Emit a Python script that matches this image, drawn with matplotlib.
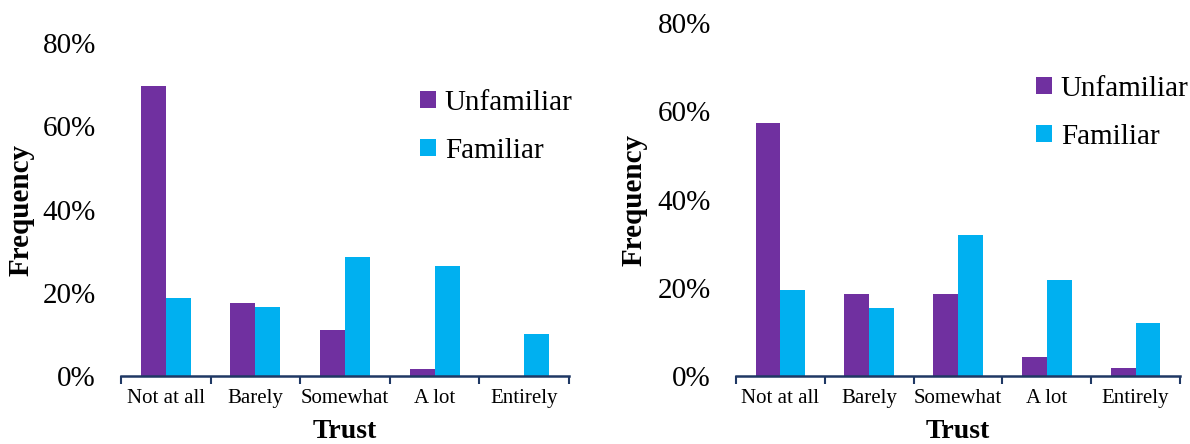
import matplotlib
matplotlib.use('Agg')
from matplotlib import pyplot as plt
from matplotlib.ticker import PercentFormatter
import numpy as np

# Trust ratings, share of respondents per answer
categories = ['Not at all', 'Barely', 'Somewhat', 'A lot', 'Entirely']
left_unfamiliar = [0.696, 0.176, 0.110, 0.016, 0.0]
left_familiar = [0.188, 0.166, 0.286, 0.264, 0.100]
right_unfamiliar = [0.574, 0.186, 0.186, 0.042, 0.017]
right_familiar = [0.195, 0.154, 0.319, 0.217, 0.121]
yticks = [0, 0.2, 0.4, 0.6, 0.8]

purple = '#7030A0'
cyan = '#00B0F0'
navy = '#1F3864'

plt.rcParams['font.family'] = ['Liberation Serif', 'DejaVu Serif']

fig = plt.figure(figsize=(11.9, 4.44), dpi=100)
ax_l = fig.add_axes([121 / 1190, 68 / 444, 448 / 1190, 333 / 444])
ax_r = fig.add_axes([736 / 1190, 68 / 444, 444 / 1190, 353 / 444])

def draw_panel(ax, unf, fam, legend_pos, ylab_x):
    x = np.arange(len(categories))
    w = 0.28
    ax.bar(x - w / 2, unf, w, color=purple, label='Unfamiliar')
    ax.bar(x + w / 2, fam, w, color=cyan, label='Familiar')
    ax.set_xlim(-0.5, len(categories) - 0.5)
    ax.set_ylim(0, 0.8)
    ax.set_yticks(yticks)
    ax.yaxis.set_major_formatter(PercentFormatter(1.0, decimals=0))
    ax.tick_params(axis='y', length=0, pad=18, labelsize=21)

    # category names centred, tick marks on the category boundaries
    ax.set_xticks(x)
    ax.set_xticklabels(categories, fontsize=15)
    ax.tick_params(axis='x', which='major', length=0, pad=9)
    ax.set_xticks(np.arange(len(categories) + 1) - 0.5, minor=True)
    ax.tick_params(axis='x', which='minor', length=6, width=1.5, color=navy, direction='out')

    for side in ['top', 'right', 'left']:
        ax.spines[side].set_visible(False)
    ax.spines['bottom'].set_color(navy)
    ax.spines['bottom'].set_linewidth(1.8)

    ax.set_xlabel('Trust', fontsize=20, fontweight='bold', labelpad=8)
    ax.set_ylabel('Frequency', fontsize=21, fontweight='bold')
    ax.yaxis.set_label_coords(ylab_x, 0.5)

    ax.legend(loc='upper left', bbox_to_anchor=legend_pos, bbox_transform=fig.transFigure,
              frameon=False, fontsize=21, handlelength=0.55, handleheight=0.55,
              handletextpad=0.3, labelspacing=0.75, borderpad=0, borderaxespad=0)

draw_panel(ax_l, left_unfamiliar, left_familiar, (420 / 1190, 1 - 90 / 444), -86 / 448)
draw_panel(ax_r, right_unfamiliar, right_familiar, (1036 / 1190, 1 - 76 / 444), -88 / 444)

fig.savefig('out.png', dpi=100)
